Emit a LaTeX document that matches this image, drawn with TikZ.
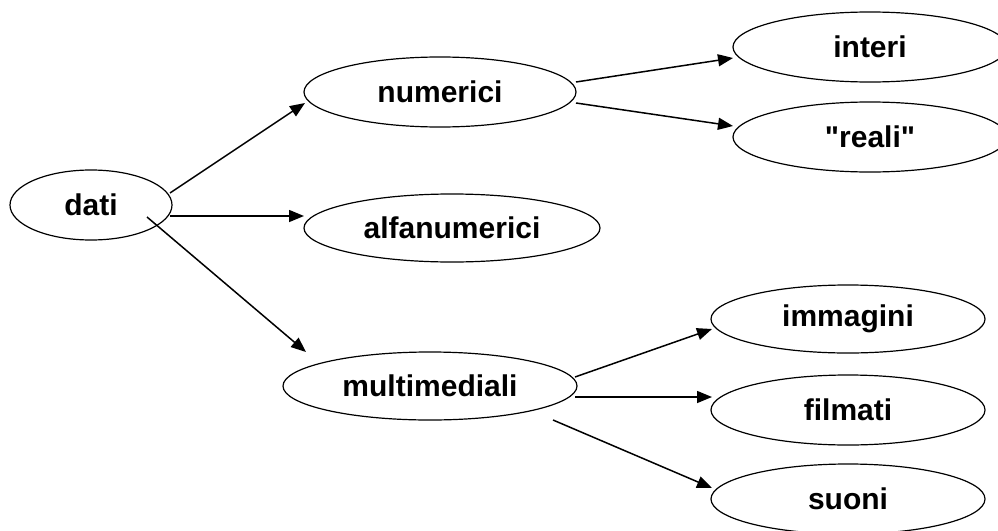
\documentclass[tikz,border=0pt]{standalone}
\usepackage{fontspec}
\newfontfamily\arialfont{Liberation Sans}
\usetikzlibrary{shapes.geometric,arrows.meta}
\tikzset{
  oval/.style={ellipse, draw=black, line width=1.2pt, inner sep=0pt,
    font=\arialfont\fontsize{30}{35}\selectfont\bfseries},
  conn/.style={line width=1.5pt, -{Triangle[length=15pt,width=12pt]}}
}
\begin{document}
\begin{tikzpicture}[x=1pt,y=-1pt]
\useasboundingbox (0,0) rectangle (998,530);
\clip (0,0) rectangle (998,530);
\node[oval, minimum width=162pt, minimum height=70pt] (dati) at (91,205) {dati};
\node[oval, minimum width=272pt, minimum height=70pt] (num) at (440,92) {numerici};
\node[oval, minimum width=296pt, minimum height=68pt] (alfa) at (452,228) {alfanumerici};
\node[oval, minimum width=294pt, minimum height=68pt] (multi) at (430,386) {multimediali};
\node[oval, minimum width=274pt, minimum height=70pt] (interi) at (870,47) {interi};
\node[oval, minimum width=274pt, minimum height=70pt] (reali) at (870,137) {"reali"};
\node[oval, minimum width=274pt, minimum height=68pt] (imm) at (848,319) {immagini};
\node[oval, minimum width=274pt, minimum height=70pt] (film) at (848,410) {filmati};
\node[oval, minimum width=274pt, minimum height=70pt] (suoni) at (848,499) {suoni};

\draw[conn] ([shift={(79,-12)}]dati.center) -- ([shift={(-135,11)}]num.center);
\draw[conn] ([shift={(79,11)}]dati.center) -- ([shift={(-148,-12)}]alfa.center);
\draw[conn] ([shift={(56,12)}]dati.center) -- ([shift={(-124,-34)}]multi.center);
\draw[conn] ([shift={(136,-10)}]num.center) -- ([shift={(-137,11)}]interi.center);
\draw[conn] ([shift={(136,11)}]num.center) -- ([shift={(-137,-11)}]reali.center);
\draw[conn] ([shift={(145,-9)}]multi.center) -- ([shift={(-136,10)}]imm.center);
\draw[conn] ([shift={(145,11)}]multi.center) -- ([shift={(-136,-13)}]film.center);
\draw[conn] ([shift={(123,34)}]multi.center) -- ([shift={(-136,-11)}]suoni.center);
\end{tikzpicture}
\end{document}
